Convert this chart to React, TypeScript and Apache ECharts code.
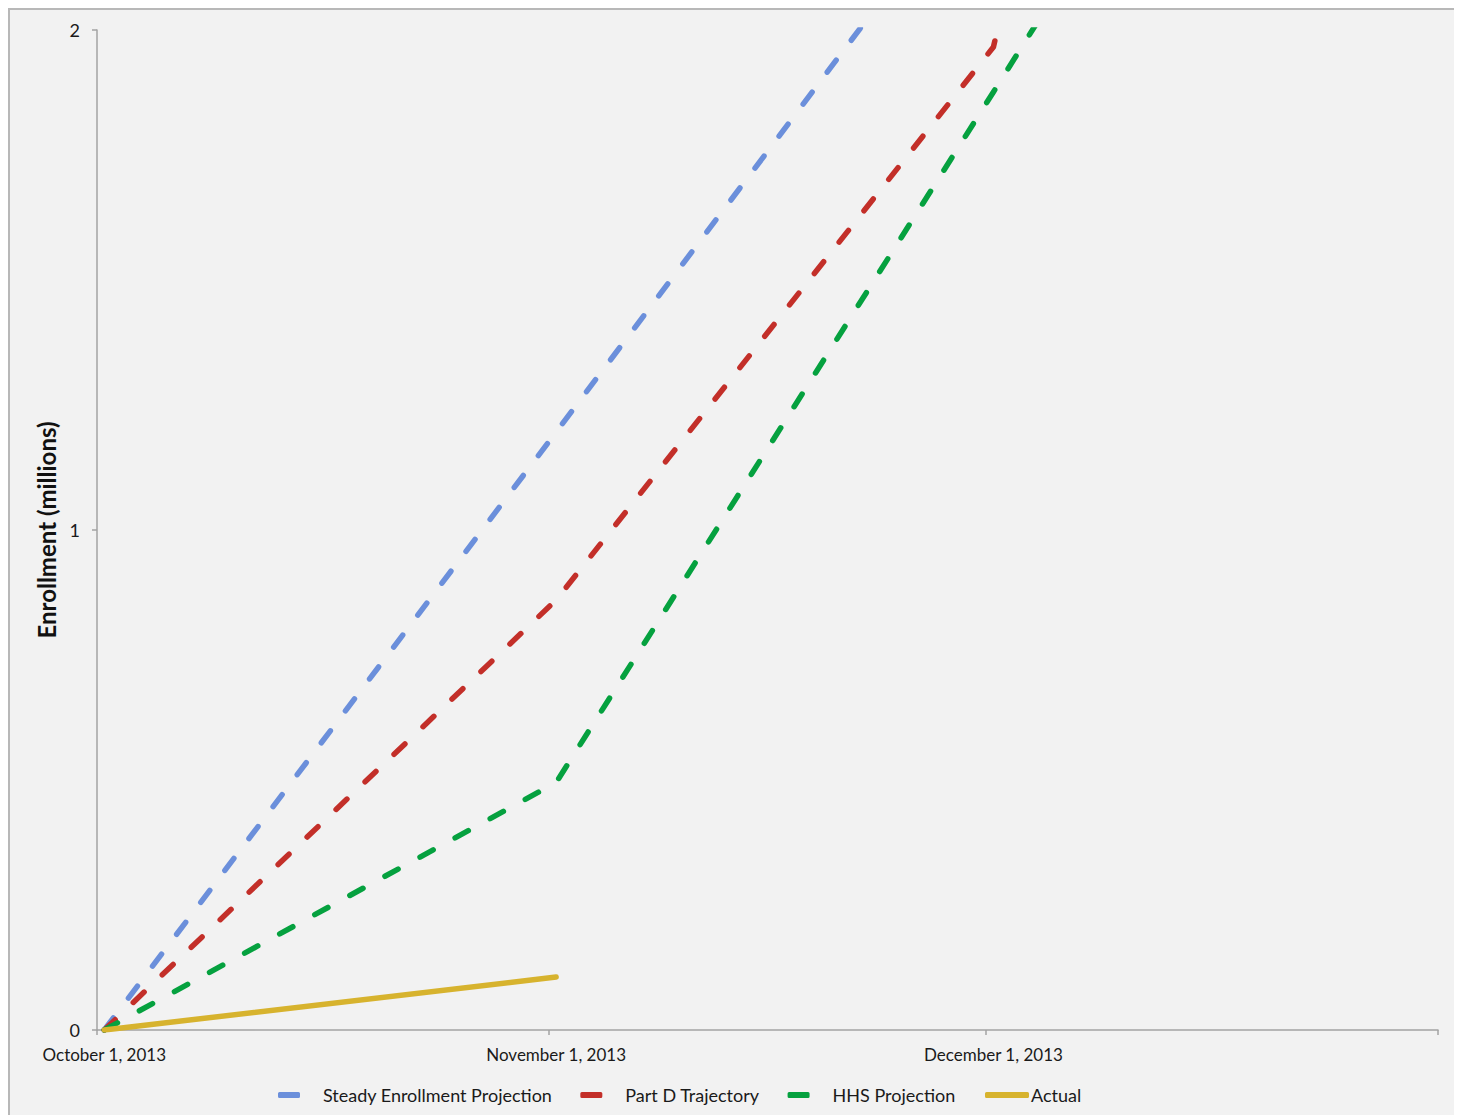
import React, { useEffect, useRef } from "react";
import * as echarts from "echarts";

// ---- data ----
const startDate = "2013-10-01";
const xTickDates = ["2013-10-01", "2013-11-01", "2013-12-01", "2014-01-01"];
const xLabelDates = ["2013-10-01", "2013-11-01", "2013-12-01"];
const xLabelTexts = ["October 1, 2013", "November 1, 2013", "December 1, 2013"];
const yTicks = [0, 1, 2];

const steadyDates = ["2013-10-01", "2013-11-01", "2013-12-01"];
const steadyValues = [0, 1.196, 2.357];

const partDDates = ["2013-10-01", "2013-11-01", "2013-12-01", "2013-12-02"];
const partDValues = [0, 0.86, 1.966, 2.09];

const hhsDates = ["2013-10-01", "2013-11-01", "2013-12-01", "2013-12-04"];
const hhsValues = [0, 0.495, 1.876, 2.015];

const actualDates = ["2013-10-01", "2013-11-01"];
const actualValues = [0, 0.106];

const seriesNames = ["Steady Enrollment Projection", "Part D Trajectory", "HHS Projection", "Actual"];
const seriesColors = ["#6b8fdb", "#c32f29", "#05a13f", "#d7b32e"];

// ---- helpers ----
const DAY = 86400000;
const dayOf = (d: string) => (Date.parse(d) - Date.parse(startDate)) / DAY;
// dates sit in the middle of their day slot (like a date axis "between tick marks")
const slot = (d: string) => dayOf(d) + 0.5;
const pairs = (dates: string[], vals: number[]) => dates.map((d, i) => [slot(d), vals[i]]);

const FONT = "Lato, 'Noto Sans', sans-serif";

export default function App() {
  const ref = useRef<HTMLDivElement>(null);

  useEffect(() => {
    document.documentElement.style.overflow = "hidden";
    document.body.style.overflow = "hidden";
    if (!ref.current) return;
    const chart = echarts.init(ref.current, null, { renderer: "svg" });

    const labelPositions = xLabelDates.map(slot);
    const dashed = (color: string) => ({
      color,
      width: 5.5,
      type: [15, 25] as number[],
      cap: "round" as const,
      join: "round" as const,
    });
    const legendText = { fontSize: 18, fontFamily: FONT, color: "#1a1a1a" };

    const option: any = {
      animation: false,
      backgroundColor: "transparent",
      grid: { left: 87, right: 20, top: 20, bottom: 96, containLabel: false },
      xAxis: {
        type: "value",
        min: dayOf(xTickDates[0]),
        max: dayOf(xTickDates[xTickDates.length - 1]),
        axisLine: { show: true, lineStyle: { color: "#a3a3a3", width: 1.5 } },
        axisTick: {
          show: true,
          length: 5,
          customValues: xTickDates.map(dayOf),
          lineStyle: { color: "#a3a3a3", width: 1.5 },
        },
        axisLabel: {
          customValues: labelPositions,
          margin: 16,
          fontSize: 17,
          fontFamily: FONT,
          color: "#1a1a1a",
          formatter: (v: number) => {
            const i = labelPositions.findIndex((p) => Math.abs(p - v) < 0.01);
            return i >= 0 ? xLabelTexts[i] : "";
          },
        },
        splitLine: { show: false },
      },
      yAxis: {
        type: "value",
        min: 0,
        max: 2,
        interval: 1,
        name: "Enrollment (millions)",
        nameLocation: "middle",
        nameGap: 37,
        nameTextStyle: { fontSize: 24, fontWeight: "bold", fontFamily: FONT, color: "#111" },
        axisLine: { show: true, lineStyle: { color: "#a3a3a3", width: 1.5 } },
        axisTick: { show: true, length: 5, lineStyle: { color: "#a3a3a3", width: 1.5 } },
        axisLabel: {
          margin: 17,
          fontSize: 18,
          fontFamily: FONT,
          color: "#1a1a1a",
          formatter: (v: number) => (yTicks.includes(v) ? String(v) : ""),
        },
        splitLine: { show: false },
      },
      legend: [
        {
          data: seriesNames.slice(0, 3),
          left: 263,
          top: 1071,
          icon: "roundRect",
          itemWidth: 22,
          itemHeight: 6,
          itemGap: 28,
          itemStyle: { borderWidth: 0 },
          textStyle: { ...legendText, padding: [0, 0, 0, 18] },
        },
        {
          data: [seriesNames[3]],
          left: 970,
          top: 1071,
          icon: "roundRect",
          itemWidth: 44,
          itemHeight: 6,
          itemStyle: { borderWidth: 0 },
          textStyle: { ...legendText, padding: [0, 0, 0, -3] },
        },
      ],
      series: [
        {
          name: seriesNames[0],
          type: "line",
          data: pairs(steadyDates, steadyValues),
          showSymbol: false,
          color: seriesColors[0],
          lineStyle: dashed(seriesColors[0]),
          z: 2,
        },
        {
          name: seriesNames[1],
          type: "line",
          data: pairs(partDDates, partDValues),
          showSymbol: false,
          color: seriesColors[1],
          lineStyle: dashed(seriesColors[1]),
          z: 3,
        },
        {
          name: seriesNames[2],
          type: "line",
          data: pairs(hhsDates, hhsValues),
          showSymbol: false,
          color: seriesColors[2],
          lineStyle: dashed(seriesColors[2]),
          z: 4,
        },
        {
          name: seriesNames[3],
          type: "line",
          data: pairs(actualDates, actualValues),
          showSymbol: false,
          color: seriesColors[3],
          lineStyle: { color: seriesColors[3], width: 5.5, cap: "round" },
          z: 5,
        },
      ],
    };

    chart.setOption(option);
    return () => chart.dispose();
  }, []);

  return (
    <div
      style={{
        width: 1452,
        height: 1120,
        boxSizing: "border-box",
        border: "2px solid #b8b8b8",
        background: "#f2f2f2",
      }}
    >
      <div ref={ref} style={{ width: 1448, height: 1116 }} />
    </div>
  );
}
